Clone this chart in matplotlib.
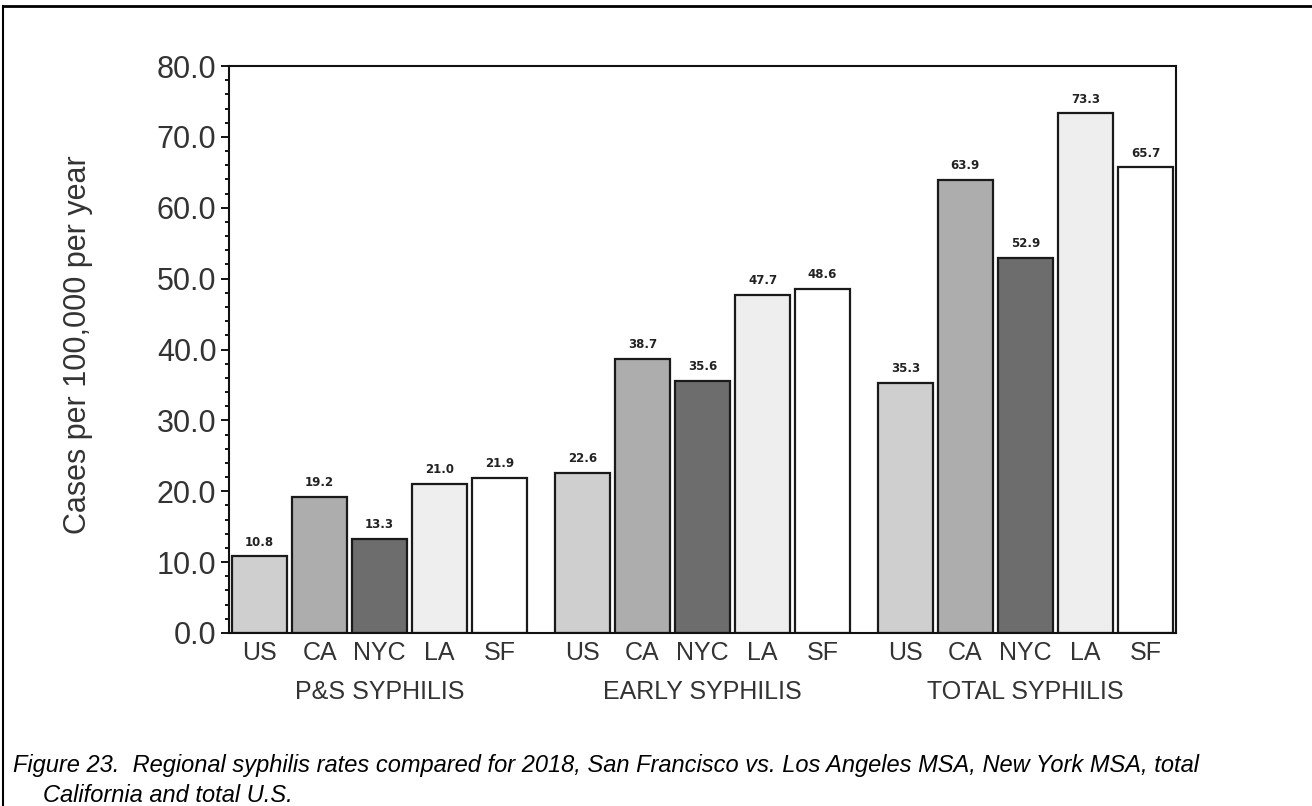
import numpy as np
import matplotlib
matplotlib.use("Agg")
import matplotlib.pyplot as plt
from matplotlib.lines import Line2D

# data
groups = ["P&S SYPHILIS", "EARLY SYPHILIS", "TOTAL SYPHILIS"]
regions = ["US", "CA", "NYC", "LA", "SF"]
ps_rates = [10.8, 19.2, 13.3, 21.0, 21.9]
early_rates = [22.6, 38.7, 35.6, 47.7, 48.6]
total_rates = [35.3, 63.9, 52.9, 73.3, 65.7]
value_labels = [
    ["10.8", "19.2", "13.3", "21.0", "21.9"],
    ["22.6", "38.7", "35.6", "47.7", "48.6"],
    ["35.3", "63.9", "52.9", "73.3", "65.7"],
]
region_colors = ["#cfcfcf", "#adadad", "#6d6d6d", "#eeeeee", "#ffffff"]

plt.rcParams["font.family"] = ["Liberation Sans", "DejaVu Sans"]

W, H = 1312, 806
fig = plt.figure(figsize=(W / 100, H / 100), dpi=100)
ax = fig.add_axes([229 / W, 1 - 633 / H, (1176 - 229) / W, (633 - 66) / H])

group_step = 5.38
bar_w = 0.92
all_rates = [ps_rates, early_rates, total_rates]

xt, xl = [], []
for g, rates in enumerate(all_rates):
    x = g * group_step + np.arange(len(regions))
    ax.bar(x, rates, width=bar_w, color=region_colors, edgecolor="#1a1a1a", linewidth=1.6)
    for xi, v, lab in zip(x, rates, value_labels[g]):
        ax.text(xi, v + 1.1, lab, ha="center", va="bottom", fontsize=8.5,
                fontweight="bold", color="#222222", family=["DejaVu Sans"])
    xt.extend(x)
    xl.extend(regions)
    ax.annotate(groups[g], xy=(x[2], -0.104), xycoords=("data", "axes fraction"),
                ha="center", va="center", fontsize=18, color="#333333")

ax.set_xticks(xt)
ax.set_xticklabels(xl, fontsize=18, color="#333333")
ax.tick_params(axis="x", length=0, pad=6)

ax.set_ylim(0, 80)
ax.set_xlim(-0.51, 2 * group_step + 4 + 0.51)
ax.set_yticks(np.arange(0, 81, 10))
ax.set_yticklabels([f"{v:.1f}" for v in np.arange(0, 81, 10)], fontsize=22, color="#333333")
ax.set_yticks(np.arange(0, 81, 2), minor=True)
ax.tick_params(axis="y", which="major", length=6, width=1.3, pad=3, direction="out")
ax.tick_params(axis="y", which="minor", length=3, width=1.3, direction="out")

for s in ax.spines.values():
    s.set_linewidth(1.5)
    s.set_color("#111111")

fig.text(78 / W, 1 - 345 / H, "Cases per 100,000 per year", rotation=90,
         ha="center", va="center", fontsize=22, color="#333333")

# caption
fig.text(13 / W, 1 - 772 / H, "Figure 23.  Regional syphilis rates compared for 2018, San Francisco vs. Los Angeles MSA, New York MSA, total",
         ha="left", va="baseline", fontsize=17, style="italic", color="black")
fig.text(43 / W, 1 - 802 / H, "California and total U.S.",
         ha="left", va="baseline", fontsize=17, style="italic", color="black")

# outer frame (top and left edges visible)
fig.add_artist(Line2D([3 / W, 3 / W], [0, 1 - 6 / H], transform=fig.transFigure, color="black", linewidth=1.5))
fig.add_artist(Line2D([3 / W, 1], [1 - 6 / H, 1 - 6 / H], transform=fig.transFigure, color="black", linewidth=2))

fig.savefig("out.png", dpi=100)
